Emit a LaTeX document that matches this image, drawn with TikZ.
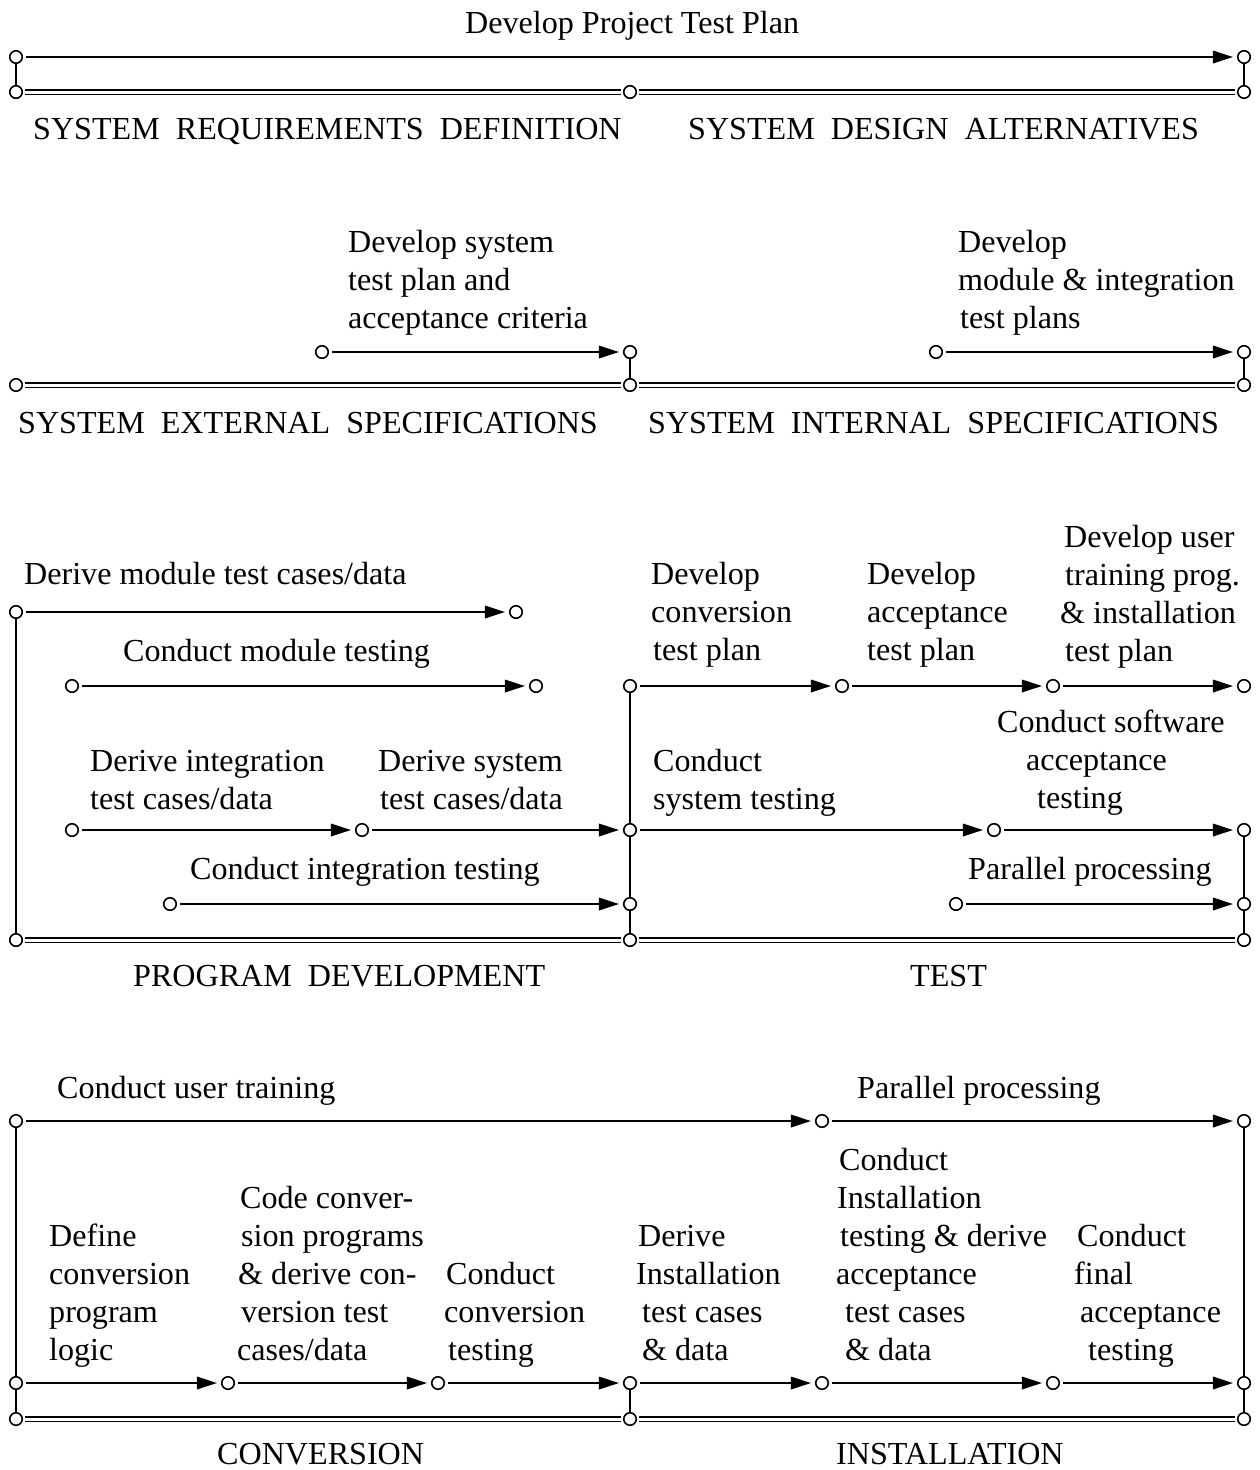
\documentclass[tikz,border=0pt]{standalone}
\usepackage{fontspec}
\setmainfont{Liberation Serif}
\usetikzlibrary{arrows.meta}
\newcommand{\mlines}[1]{\begin{tabular}[t]{@{}l@{}}#1\end{tabular}}
\newcommand{\dblline}[2]{%
  \draw[line width=2.4pt] ([xshift=2pt,yshift=2.3pt]#1.east) -- ([xshift=-2pt,yshift=2.3pt]#2.west);
  \draw[line width=1.4pt] ([xshift=2pt,yshift=-2.2pt]#1.east) -- ([xshift=-2pt,yshift=-2.2pt]#2.west);}
\begin{document}
\begin{tikzpicture}[x=1pt,y=-1pt,
  font=\fontsize{32.1}{38}\selectfont,
  dot/.style={circle, draw, fill=white, line width=1.6pt, inner sep=0pt, minimum size=12.5pt},
  arr/.style={line width=1.8pt, -{Triangle[length=20pt,width=12.5pt]}, shorten <=3pt, shorten >=4pt},
  conn/.style={line width=1.8pt},
  lbl/.style={anchor=base west, inner sep=0pt}]
\useasboundingbox (0,0) rectangle (1260,1470);

% ---------- Section 1 ----------
\node[lbl] (t1) at (465,33) {Develop Project Test Plan};
\node[lbl] (t2) at (33,139) {SYSTEM~~REQUIREMENTS~~DEFINITION};
\node[lbl] (t3) at (688,139) {SYSTEM~~DESIGN~~ALTERNATIVES};
\node[dot] (a1) at (16,57) {};
\node[dot] (a2) at (1244,57) {};
\node[dot] (b1) at (16,92) {};
\node[dot] (b2) at (630,92) {};
\node[dot] (b3) at (1244,92) {};
\draw[arr] (a1) -- (a2);
\draw[conn] (a1) -- (b1);
\draw[conn] (a2) -- (b3);
\dblline{b1}{b2}
\dblline{b2}{b3}

% ---------- Section 2 ----------
\node[lbl] (t4) at (348,252) {\mlines{Develop system\\test plan and\\acceptance criteria}};
\node[lbl] (t5) at (958,252) {\mlines{Develop\\module \& integration\\\hspace*{2pt}test plans}};
\node[lbl] (t6) at (18,433) {SYSTEM~~EXTERNAL~~SPECIFICATIONS};
\node[lbl] (t7) at (648,433) {SYSTEM~~INTERNAL~~SPECIFICATIONS};
\node[dot] (c1) at (322,352) {};
\node[dot] (c2) at (630,352) {};
\node[dot] (c3) at (936,352) {};
\node[dot] (c4) at (1244,352) {};
\node[dot] (d1) at (16,385) {};
\node[dot] (d2) at (630,385) {};
\node[dot] (d3) at (1244,385) {};
\draw[arr] (c1) -- (c2);
\draw[arr] (c3) -- (c4);
\draw[conn] (c2) -- (d2);
\draw[conn] (c4) -- (d3);
\dblline{d1}{d2}
\dblline{d2}{d3}

% ---------- Section 3 ----------
\node[lbl] (t8) at (24,584) {Derive module test cases/data};
\node[lbl] (t9) at (123,661) {Conduct module testing};
\node[lbl] (t10) at (90,771) {\mlines{Derive integration\\test cases/data}};
\node[lbl] (t11) at (378,771) {\mlines{Derive system\\\hspace*{2pt}test cases/data}};
\node[lbl] (t12) at (190,879) {Conduct integration testing};
\node[lbl] (t13) at (133,986) {PROGRAM~~DEVELOPMENT};
\node[lbl] (t14) at (910,986) {TEST};
\node[lbl] (t15) at (651,584) {\mlines{Develop\\conversion\\\hspace*{2pt}test plan}};
\node[lbl] (t16) at (867,584) {\mlines{Develop\\acceptance\\test plan}};
\node[lbl] (t17) at (1060,547) {\mlines{\hspace*{4pt}Develop user\\\hspace*{5pt}training prog.\\\& installation\\\hspace*{5pt}test plan}};
\node[lbl] (t18) at (653,771) {\mlines{Conduct\\system testing}};
\node[lbl] (t19) at (997,732) {\mlines{Conduct software\\\hspace*{29pt}acceptance\\\hspace*{40pt}testing}};
\node[lbl] (t20) at (968,879) {Parallel processing};

\node[dot] (e1) at (16,612) {};
\node[dot] (e2) at (516,612) {};
\node[dot] (g1) at (72,686) {};
\node[dot] (g2) at (536,686) {};
\node[dot] (k1) at (630,686) {};
\node[dot] (k2) at (842,686) {};
\node[dot] (k3) at (1053,686) {};
\node[dot] (k4) at (1244,686) {};
\node[dot] (h1) at (72,830) {};
\node[dot] (h2) at (362,830) {};
\node[dot] (h3) at (630,830) {};
\node[dot] (l1) at (994,830) {};
\node[dot] (l2) at (1244,830) {};
\node[dot] (i1) at (170,904) {};
\node[dot] (i2) at (630,904) {};
\node[dot] (m1) at (956,904) {};
\node[dot] (m2) at (1244,904) {};
\node[dot] (j1) at (16,940) {};
\node[dot] (j2) at (630,940) {};
\node[dot] (j3) at (1244,940) {};
\draw[arr] (e1) -- (e2);
\draw[arr] (g1) -- (g2);
\draw[arr] (k1) -- (k2);
\draw[arr] (k2) -- (k3);
\draw[arr] (k3) -- (k4);
\draw[arr] (h1) -- (h2);
\draw[arr] (h2) -- (h3);
\draw[arr] (h3) -- (l1);
\draw[arr] (l1) -- (l2);
\draw[arr] (i1) -- (i2);
\draw[arr] (m1) -- (m2);
\draw[conn] (e1) -- (j1);
\draw[conn] (k1) -- (h3);
\draw[conn] (h3) -- (i2);
\draw[conn] (i2) -- (j2);
\draw[conn] (l2) -- (m2);
\draw[conn] (m2) -- (j3);
\dblline{j1}{j2}
\dblline{j2}{j3}

% ---------- Section 4 ----------
\node[lbl] (t21) at (57,1098) {Conduct user training};
\node[lbl] (t22) at (857,1098) {Parallel processing};
\node[lbl] (t23) at (49,1246) {\mlines{Define\\conversion\\program\\logic}};
\node[lbl] (t24) at (237,1208) {\mlines{\hspace*{3pt}Code conver-\\\hspace*{4pt}sion programs\\\hspace*{1pt}\& derive con-\\\hspace*{4pt}version test\\cases/data}};
\node[lbl] (t25) at (444,1284) {\mlines{\hspace*{2pt}Conduct\\conversion\\\hspace*{4pt}testing}};
\node[lbl] (t26) at (636,1246) {\mlines{\hspace*{2pt}Derive\\Installation\\\hspace*{6pt}test cases\\\hspace*{6pt}\& data}};
\node[lbl] (t27) at (836,1170) {\mlines{\hspace*{3pt}Conduct\\\hspace*{1pt}Installation\\\hspace*{4pt}testing \& derive\\acceptance\\\hspace*{9pt}test cases\\\hspace*{9pt}\& data}};
\node[lbl] (t28) at (1074,1246) {\mlines{\hspace*{3pt}Conduct\\final\\\hspace*{6pt}acceptance\\\hspace*{14pt}testing}};
\node[lbl] (t29) at (217,1464) {CONVERSION};
\node[lbl] (t30) at (836,1464) {INSTALLATION};

\node[dot] (n1) at (16,1121) {};
\node[dot] (n2) at (822,1121) {};
\node[dot] (n3) at (1244,1121) {};
\node[dot] (p1) at (16,1383) {};
\node[dot] (p2) at (228,1383) {};
\node[dot] (p3) at (438,1383) {};
\node[dot] (p4) at (630,1383) {};
\node[dot] (p5) at (822,1383) {};
\node[dot] (p6) at (1053,1383) {};
\node[dot] (p7) at (1244,1383) {};
\node[dot] (q1) at (16,1419) {};
\node[dot] (q2) at (630,1419) {};
\node[dot] (q3) at (1244,1419) {};
\draw[arr] (n1) -- (n2);
\draw[arr] (n2) -- (n3);
\draw[arr] (p1) -- (p2);
\draw[arr] (p2) -- (p3);
\draw[arr] (p3) -- (p4);
\draw[arr] (p4) -- (p5);
\draw[arr] (p5) -- (p6);
\draw[arr] (p6) -- (p7);
\draw[conn] (n1) -- (p1);
\draw[conn] (n3) -- (p7);
\draw[conn] (p1) -- (q1);
\draw[conn] (p4) -- (q2);
\draw[conn] (p7) -- (q3);
\dblline{q1}{q2}
\dblline{q2}{q3}
\end{tikzpicture}
\end{document}
